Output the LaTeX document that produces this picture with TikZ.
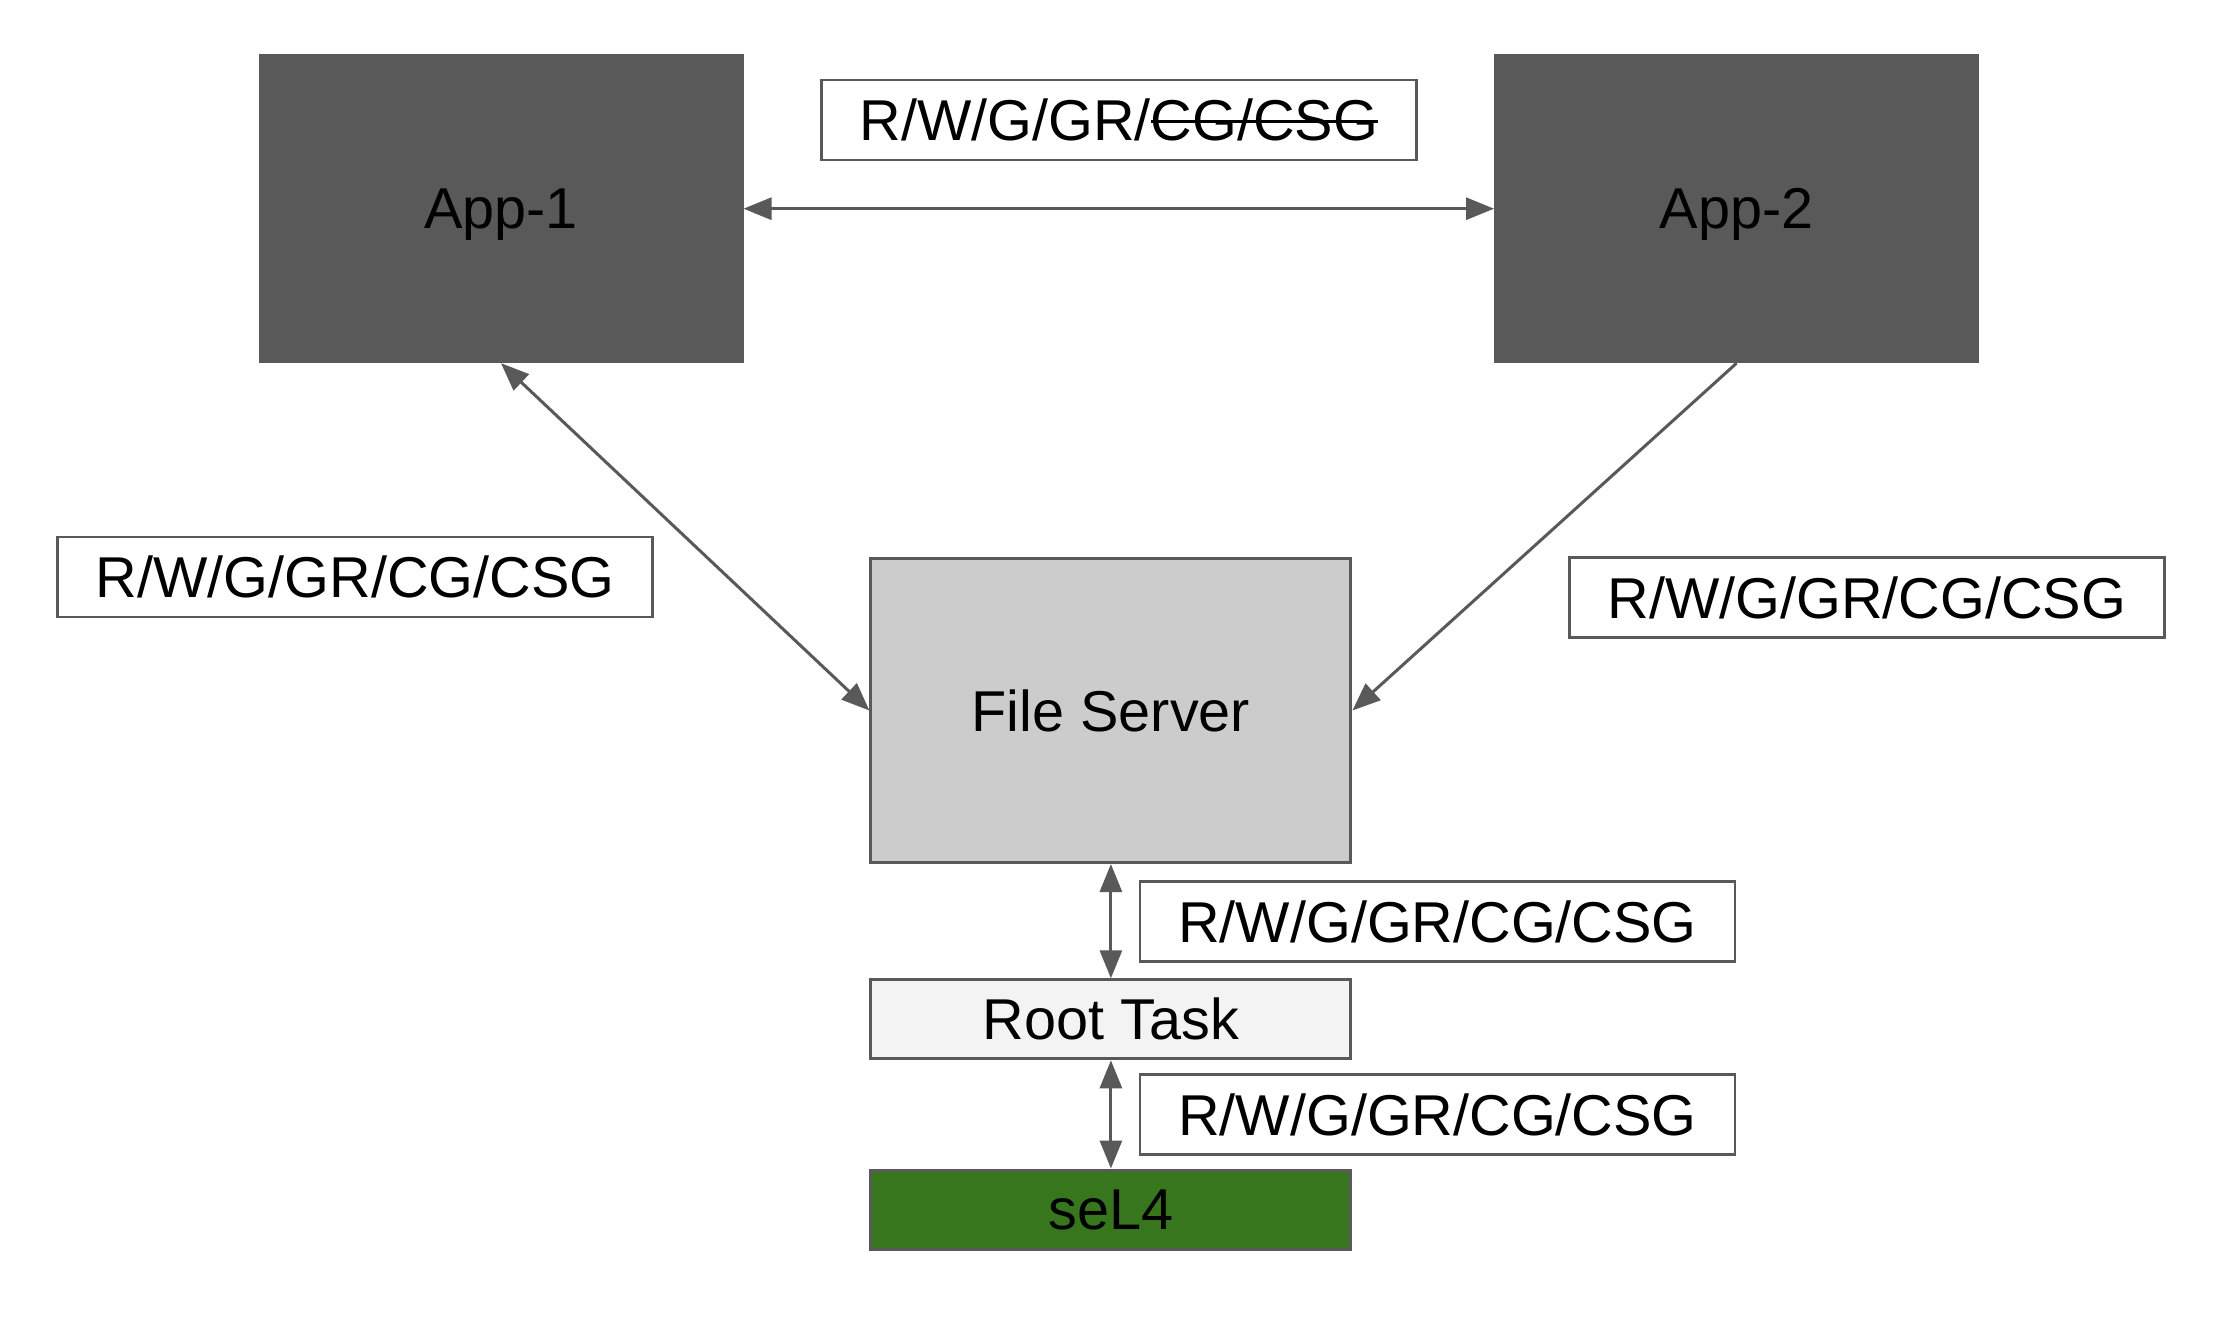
\documentclass[tikz,border=0pt]{standalone}
\usepackage{fontspec}
\setmainfont{Liberation Sans}
\usetikzlibrary{arrows.meta}
\definecolor{appgray}{HTML}{595959}
\definecolor{fsgray}{HTML}{CCCCCC}
\definecolor{rtgray}{HTML}{F3F3F3}
\definecolor{selgreen}{HTML}{38761D}
\newsavebox{\strkbox}
\newcommand{\strk}[1]{\sbox{\strkbox}{#1}%
  \rlap{\raisebox{0.3em}{\rule{\wd\strkbox}{1.6pt}}}\usebox{\strkbox}}
\begin{document}
\begin{tikzpicture}[x=0.5pt, y=-0.5pt, font=\fontsize{28.8}{34}\selectfont,
  app/.style={draw=appgray, fill=appgray, line width=1.5pt, text depth=0pt,
              minimum width=241pt, minimum height=153pt, inner sep=0pt},
  fs/.style={draw=appgray, fill=fsgray, line width=1.5pt,
             minimum width=240pt, minimum height=152pt, inner sep=0pt},
  rt/.style={draw=appgray, fill=rtgray, line width=1.5pt,
             minimum width=240pt, minimum height=39.5pt, inner sep=0pt},
  kern/.style={draw=appgray, fill=selgreen, line width=1.5pt,
               minimum width=240pt, minimum height=39.5pt, inner sep=0pt},
  lbl/.style={draw=appgray, fill=white, line width=1.4pt,
              minimum width=297.5pt, minimum height=40pt, inner sep=0pt},
  lnk/.style={draw=appgray, line width=1.5pt,
              {Triangle[length=14pt, width=11pt]}-{Triangle[length=14pt, width=11pt]}},
  lnkone/.style={draw=appgray, line width=1.5pt,
                 -{Triangle[length=14pt, width=11pt]}}
]
\fill[white] (0,0) rectangle (2226,1328);
\useasboundingbox (0,0) rectangle (2226,1328);
% boxes
\node[app] (app1) at (501, 208.7) {App-1};
\node[app] (app2) at (1736.5, 208.7) {App-2};
\node[fs] (fsrv) at (1110.9, 710.5) {File Server};
\node[rt] (root) at (1110.9, 1019.3) {Root Task};
\node[kern] (sel4) at (1110.9, 1209.5) {seL4};
% rights labels
\node[lbl] (ltop) at (1118.7, 120) {R/W/G/GR/\strk{CG/CSG}};
\node[lbl] (lleft) at (355, 577) {R/W/G/GR/CG/CSG};
\node[lbl] (lright) at (1866.8, 597.7) {R/W/G/GR/CG/CSG};
\node[lbl] (lroot) at (1437.4, 921.4) {R/W/G/GR/CG/CSG};
\node[lbl] (lsel) at (1437.4, 1114.4) {R/W/G/GR/CG/CSG};
% connectors
\draw[lnk] (app1.east) -- (app2.west);
\draw[lnk] (app1.south) -- (fsrv.west);
\draw[lnkone] (app2.south) -- (fsrv.east);
\draw[lnk] (fsrv.south) -- (root.north);
\draw[lnk] (root.south) -- (sel4.north);
\end{tikzpicture}
\end{document}
